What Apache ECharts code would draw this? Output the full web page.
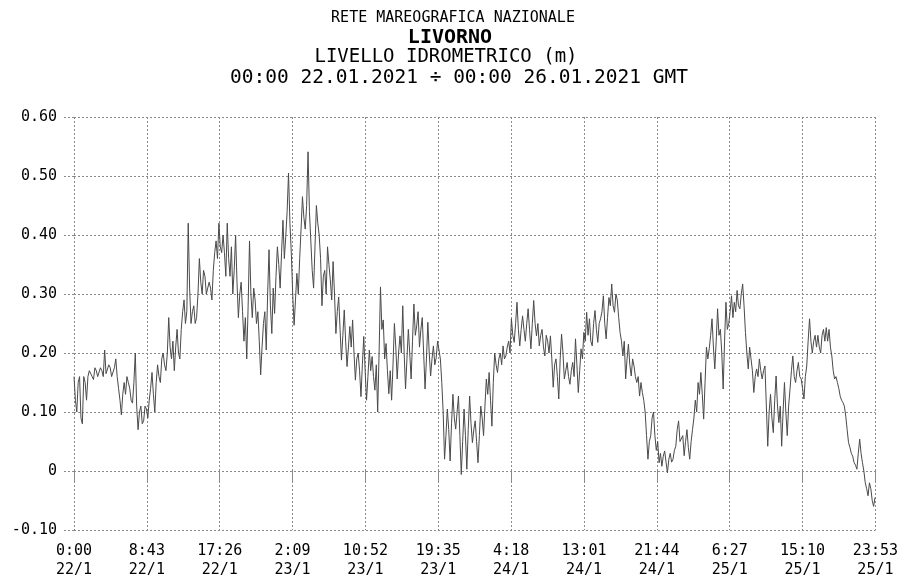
<!DOCTYPE html>
<html>
<head>
<meta charset="utf-8">
<script src="https://cdn.jsdelivr.net/npm/echarts@6/dist/echarts.min.js"></script>
<style>
html,body{margin:0;padding:0;background:#fff;}
#chart{width:901px;height:581px;}
</style>
</head>
<body>
<div id="chart"></div>
<script>
// Sea level (m), one value every 10 minutes, from 00:00 22.01.2021
const stepMinutes = 10;
const day22 = [
  0.16, 0.12, 0.10, 0.15, 0.16, 0.09,   0.08, 0.16, 0.15, 0.12, 0.16, 0.17,
  0.17, 0.16, 0.155, 0.175, 0.17, 0.16,  0.16, 0.175, 0.17, 0.16, 0.205, 0.165,
  0.165, 0.18, 0.175, 0.16, 0.16, 0.175, 0.19, 0.16, 0.14, 0.12, 0.095, 0.13,
  0.15, 0.13, 0.16, 0.15, 0.14, 0.12,    0.115, 0.15, 0.20, 0.11, 0.07, 0.10,
  0.11, 0.08, 0.085, 0.11, 0.105, 0.09,  0.12, 0.14, 0.167, 0.13, 0.10, 0.15,
  0.18, 0.16, 0.15, 0.19, 0.20, 0.18,    0.17, 0.20, 0.26, 0.21, 0.19, 0.22,
  0.17, 0.21, 0.24, 0.20, 0.19, 0.24,    0.27, 0.29, 0.25, 0.27, 0.42, 0.31,
  0.25, 0.27, 0.28, 0.25, 0.26, 0.30,    0.36, 0.32, 0.30, 0.34, 0.33, 0.30,
  0.30, 0.32, 0.31, 0.29, 0.34, 0.37,    0.39, 0.36, 0.42, 0.38, 0.37, 0.40,
  0.37, 0.33, 0.42, 0.36, 0.33, 0.38,    0.30, 0.34, 0.40, 0.32, 0.26, 0.30,
  0.32, 0.27, 0.22, 0.26, 0.19, 0.28,    0.39, 0.30, 0.26, 0.31, 0.29, 0.25,
  0.27, 0.22, 0.163, 0.21, 0.25, 0.27,   0.205, 0.30, 0.375, 0.28, 0.233, 0.31
];
const day23 = [
  0.267, 0.33, 0.38, 0.35, 0.31, 0.37,   0.425, 0.36, 0.397, 0.44, 0.505, 0.42,
  0.369, 0.30, 0.247, 0.29, 0.335, 0.30, 0.36, 0.41, 0.465, 0.43, 0.41, 0.45,
  0.541, 0.44, 0.39, 0.34, 0.31, 0.38,   0.45, 0.42, 0.40, 0.36, 0.28, 0.33,
  0.34, 0.30, 0.38, 0.35, 0.324, 0.29,   0.355, 0.30, 0.233, 0.27, 0.295, 0.24,
  0.188, 0.23, 0.273, 0.22, 0.177, 0.21, 0.245, 0.21, 0.256, 0.20, 0.154, 0.19,
  0.20, 0.17, 0.126, 0.18, 0.228, 0.17,  0.12, 0.16, 0.205, 0.17, 0.194, 0.16,
  0.137, 0.18, 0.10, 0.20, 0.312, 0.24,  0.256, 0.19, 0.216, 0.17, 0.131, 0.17,
  0.12, 0.18, 0.25, 0.21, 0.156, 0.20,   0.229, 0.20, 0.28, 0.20, 0.139, 0.19,
  0.24, 0.20, 0.156, 0.22, 0.283, 0.23,  0.246, 0.27, 0.21, 0.24, 0.26, 0.20,
  0.139, 0.19, 0.252, 0.20, 0.161, 0.19, 0.212, 0.18, 0.192, 0.22, 0.218, 0.19,
  0.15, 0.10, 0.02, 0.06, 0.105, 0.07,   0.017, 0.08, 0.13, 0.09, 0.071, 0.10,
  0.127, 0.06, -0.006, 0.05, 0.105, 0.06, 0.003, 0.07, 0.127, 0.08, 0.048, 0.07
];
const day24 = [
  0.085, 0.05, 0.014, 0.06, 0.11, 0.09,  0.06, 0.11, 0.156, 0.13, 0.167, 0.12,
  0.076, 0.15, 0.20, 0.18, 0.167, 0.19,  0.20, 0.18, 0.212, 0.19, 0.195, 0.21,
  0.22, 0.20, 0.258, 0.23, 0.218, 0.25,  0.286, 0.24, 0.212, 0.24, 0.263, 0.24,
  0.22, 0.25, 0.275, 0.24, 0.207, 0.25,  0.289, 0.25, 0.229, 0.25, 0.212, 0.23,
  0.24, 0.21, 0.195, 0.23, 0.22, 0.20,   0.229, 0.19, 0.142, 0.18, 0.19, 0.16,
  0.122, 0.19, 0.232, 0.20, 0.156, 0.17, 0.184, 0.16, 0.147, 0.17, 0.184, 0.16,
  0.224, 0.18, 0.133, 0.17, 0.207, 0.19, 0.235, 0.22, 0.269, 0.23, 0.258, 0.22,
  0.212, 0.25, 0.272, 0.24, 0.218, 0.25, 0.258, 0.27, 0.297, 0.25, 0.224, 0.26,
  0.294, 0.28, 0.317, 0.28, 0.269, 0.30, 0.29, 0.26, 0.235, 0.22, 0.195, 0.22,
  0.156, 0.19, 0.215, 0.18, 0.161, 0.19, 0.178, 0.16, 0.15, 0.16, 0.127, 0.15,
  0.133, 0.12, 0.10, 0.06, 0.02, 0.05,   0.06, 0.09, 0.10, 0.06, 0.035, 0.05,
  0.014, 0.03, 0.008, 0.025, 0.034, 0.015, -0.003, 0.02, 0.03, 0.015, 0.02, 0.035
];
const day25 = [
  0.042, 0.07, 0.085, 0.05, 0.048, 0.06, 0.026, 0.05, 0.07, 0.04, 0.02, 0.05,
  0.07, 0.09, 0.12, 0.10, 0.15, 0.13,    0.167, 0.13, 0.088, 0.15, 0.21, 0.19,
  0.207, 0.23, 0.258, 0.21, 0.173, 0.22, 0.275, 0.23, 0.24, 0.20, 0.139, 0.22,
  0.286, 0.24, 0.25, 0.27, 0.297, 0.26,  0.286, 0.27, 0.306, 0.28, 0.275, 0.30,
  0.317, 0.28, 0.235, 0.20, 0.173, 0.21, 0.207, 0.17, 0.133, 0.16, 0.173, 0.16,
  0.19, 0.17, 0.156, 0.17, 0.178, 0.11,  0.042, 0.10, 0.13, 0.09, 0.065, 0.12,
  0.161, 0.11, 0.082, 0.11, 0.042, 0.10, 0.15, 0.10, 0.06, 0.11, 0.139, 0.17,
  0.195, 0.16, 0.15, 0.17, 0.184, 0.16,  0.156, 0.14, 0.122, 0.16, 0.178, 0.22,
  0.258, 0.22, 0.20, 0.22, 0.23, 0.21,   0.23, 0.21, 0.20, 0.23, 0.24, 0.22,
  0.243, 0.22, 0.24, 0.21, 0.195, 0.17,  0.156, 0.16, 0.15, 0.14, 0.127, 0.12,
  0.116, 0.11, 0.093, 0.07, 0.048, 0.04, 0.03, 0.025, 0.014, 0.01, 0.003, 0.03,
  0.054, 0.03, 0.014, 0.0, -0.02, -0.03, -0.042, -0.02, -0.03, -0.05, -0.06, -0.045
];
const xTickStep = 523; // minutes (8:43)
const xTickLabels = ['0:00\n22/1','8:43\n22/1','17:26\n22/1','2:09\n23/1','10:52\n23/1','19:35\n23/1',
  '4:18\n24/1','13:01\n24/1','21:44\n24/1','6:27\n25/1','15:10\n25/1','23:53\n25/1'];
const yTickLabels = ['-0.10','0','0.10','0.20','0.30','0.40','0.50','0.60'];
const titleLines = ['RETE MAREOGRAFICA NAZIONALE','LIVORNO','LIVELLO IDROMETRICO (m)',
  '00:00 22.01.2021 \u00f7 00:00 26.01.2021 GMT'];

const levels = [].concat(day22, day23, day24, day25);
const seriesData = levels.map((v, i) => [i * stepMinutes, v]);

const gridLine = { color: '#8a8a8a', type: [2, 2], width: 1 };
const mono = 'DejaVu Sans Mono';

const chart = echarts.init(document.getElementById('chart'), null, { renderer: 'canvas' });
chart.setOption({
  animation: false,
  backgroundColor: '#fff',
  graphic: [
    { type: 'text', x: 453, y: 18, style: { text: titleLines[0], font: '15px "DejaVu Sans Mono"', fill: '#000', align: 'center', verticalAlign: 'middle' } },
    { type: 'text', x: 450, y: 38, style: { text: titleLines[1], font: 'bold 20px "DejaVu Sans Mono"', fill: '#000', align: 'center', verticalAlign: 'middle' } },
    { type: 'text', x: 446, y: 57, style: { text: titleLines[2], font: '19px "DejaVu Sans Mono"', fill: '#000', align: 'center', verticalAlign: 'middle' } },
    { type: 'text', x: 459, y: 78, style: { text: titleLines[3], font: '19.5px "DejaVu Sans Mono"', fill: '#000', align: 'center', verticalAlign: 'middle' } }
  ],
  grid: { left: 74, right: 23, top: 117, bottom: 51, containLabel: false },
  xAxis: {
    type: 'value', min: 0, max: xTickStep * 11, interval: xTickStep,
    axisLine: { show: false },
    axisTick: { show: true, length: 10, lineStyle: gridLine },
    splitLine: { show: true, lineStyle: gridLine },
    axisLabel: {
      margin: 12, fontFamily: mono, fontSize: 15, color: '#000', lineHeight: 19,
      showMinLabel: true, showMaxLabel: true,
      formatter: v => xTickLabels[Math.round(v / xTickStep)]
    }
  },
  yAxis: {
    type: 'value', min: -0.1, max: 0.6, interval: 0.1,
    axisLine: { show: false },
    axisTick: { show: true, length: 10, lineStyle: gridLine },
    splitLine: { show: true, lineStyle: gridLine },
    axisLabel: {
      margin: 17, fontFamily: mono, fontSize: 15, color: '#000',
      formatter: v => yTickLabels[Math.round((v + 0.1) / 0.1)]
    }
  },
  series: [{
    type: 'line', data: seriesData, showSymbol: false, symbol: 'none',
    lineStyle: { color: '#4a4a4a', width: 1 }, silent: true
  }]
});
</script>
</body>
</html>
